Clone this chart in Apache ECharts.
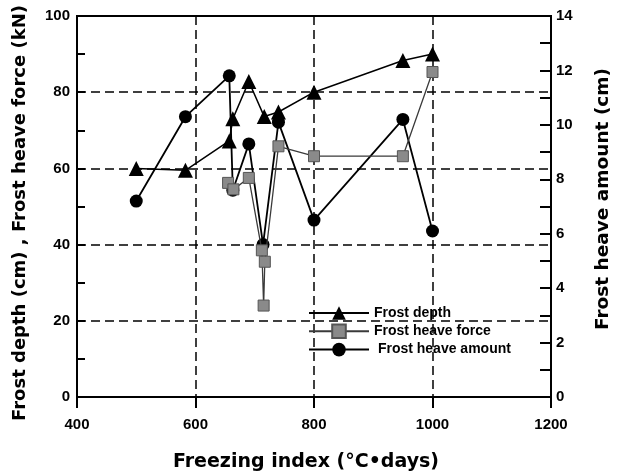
<!DOCTYPE html>
<html>
<head>
<meta charset="utf-8">
<script src="https://cdn.jsdelivr.net/npm/echarts@6/dist/echarts.min.js"></script>
<style>html,body{margin:0;padding:0;background:#fff;}#c{width:621px;height:476px;}</style>
</head>
<body>
<div id="c"></div>
<script>
// Frost depth (cm) — left axis
var depthX = [500, 583, 657, 663, 690, 716, 740, 800, 950, 1000];
var depthY = [60, 59.5, 67.2, 73, 82.8, 73.6, 74.8, 80, 88.3, 90];
// Frost heave force (kN) — left axis
var forceX = [655, 664, 690, 712, 715, 717, 740, 800, 950, 1000];
var forceY = [56.2, 54.5, 57.5, 38.5, 24, 35.5, 65.8, 63.2, 63.2, 85.3];
// Frost heave amount (cm) — right axis
var amountX = [500, 583, 657, 663, 690, 714, 740, 800, 950, 1000];
var amountY = [7.2, 10.3, 11.8, 7.6, 9.3, 5.6, 10.1, 6.5, 10.2, 6.1];

var seriesNames = ['Frost depth', 'Frost heave force', 'Frost heave amount'];
var xTitle = 'Freezing index (°C•days)';
var yLeftTitle = 'Frost depth (cm) , Frost heave force (kN)';
var yRightTitle = 'Frost heave amount (cm)';

function pairs(xs, ys) { return xs.map(function (x, i) { return [x, ys[i]]; }); }
function plain(v) { return String(v); }

var tickFont = { fontFamily: 'Liberation Sans', fontWeight: 'bold', fontSize: 15, color: '#000', formatter: plain };
var dash = { color: '#000', width: 1.5, type: [9, 5] };

var chart = echarts.init(document.getElementById('c'), null, { renderer: 'canvas' });
chart.setOption({
  animation: false,
  backgroundColor: '#fff',
  grid: { left: 77, right: 70, top: 16, bottom: 79, show: true, borderColor: '#000', borderWidth: 2, backgroundColor: 'transparent' },
  xAxis: {
    type: 'value', min: 400, max: 1200, interval: 200,
    axisLine: { show: true, lineStyle: { color: '#000', width: 2 } },
    axisTick: { show: true, inside: false, length: 11, lineStyle: { color: '#000', width: 2 } },
    axisLabel: Object.assign({ margin: 20 }, tickFont),
    splitLine: { show: true, lineStyle: dash }
  },
  yAxis: [{
    type: 'value', min: 0, max: 100, interval: 20, position: 'left',
    axisLine: { show: true, lineStyle: { color: '#000', width: 2 } },
    axisTick: { show: true, inside: true, length: 8, lineStyle: { color: '#000', width: 2 } },
    minorTick: { show: true, splitNumber: 2, length: 8, lineStyle: { color: '#000', width: 2 } },
    axisLabel: Object.assign({ margin: 7 }, tickFont),
    splitLine: { show: true, lineStyle: dash }
  }, {
    type: 'value', min: 0, max: 14, interval: 2, position: 'right',
    axisLine: { show: true, lineStyle: { color: '#000', width: 2 } },
    axisTick: { show: true, inside: true, length: 11, lineStyle: { color: '#000', width: 2 } },
    minorTick: { show: true, splitNumber: 2, length: 11, lineStyle: { color: '#000', width: 2 } },
    axisLabel: Object.assign({ margin: 5 }, tickFont),
    splitLine: { show: false }
  }],
  legend: {
    orient: 'vertical', left: 303, top: 301, itemWidth: 60, itemHeight: 17, itemGap: 3.5,
    data: seriesNames,
    formatter: function (n) { return (n === 'Frost heave amount' ? ' ' : '') + n; },
    textStyle: { fontFamily: 'Liberation Sans', fontWeight: 'bold', fontSize: 14, color: '#000' }
  },
  series: [{
    name: seriesNames[0], type: 'line', yAxisIndex: 0, data: pairs(depthX, depthY),
    symbol: 'triangle', symbolSize: 15,
    lineStyle: { color: '#000', width: 1.5 },
    itemStyle: { color: '#000', borderColor: '#000', borderWidth: 0 }, z: 2
  }, {
    name: seriesNames[1], type: 'line', yAxisIndex: 0, data: pairs(forceX, forceY),
    symbol: 'rect', symbolSize: 11,
    lineStyle: { color: '#3a3a3a', width: 1.3 },
    itemStyle: { color: '#8a8a8a', borderColor: '#555', borderWidth: 1 }, z: 4
  }, {
    name: seriesNames[2], type: 'line', yAxisIndex: 1, data: pairs(amountX, amountY),
    symbol: 'circle', symbolSize: 13,
    lineStyle: { color: '#000', width: 1.8 },
    itemStyle: { color: '#000', borderColor: '#000', borderWidth: 0 }, z: 3
  }],
  graphic: [{
    type: 'text', x: 20, y: 213, rotation: Math.PI / 2,
    style: { text: yLeftTitle, font: 'bold 18px "DejaVu Sans"', fill: '#000', align: 'center', verticalAlign: 'middle' }
  }, {
    type: 'text', x: 603, y: 199, rotation: Math.PI / 2,
    style: { text: yRightTitle, font: 'bold 18.5px "DejaVu Sans"', fill: '#000', align: 'center', verticalAlign: 'middle' }
  }, {
    type: 'text', x: 306, y: 462,
    style: { text: xTitle, font: 'bold 19px "DejaVu Sans"', fill: '#000', align: 'center', verticalAlign: 'middle' }
  }]
});
</script>
</body>
</html>
